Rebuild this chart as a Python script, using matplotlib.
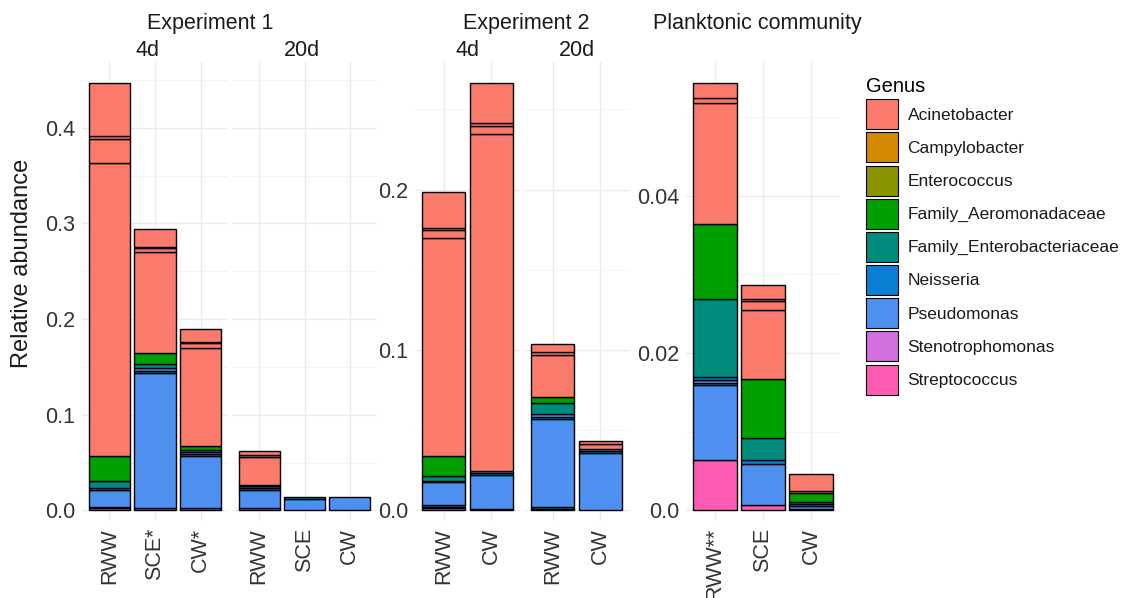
import matplotlib
matplotlib.use("Agg")
import matplotlib.pyplot as plt
from matplotlib.patches import Patch

plt.rcParams['font.family'] = ['Liberation Sans', 'DejaVu Sans']

# genus palette (legend order)
genera = ["Acinetobacter", "Campylobacter", "Enterococcus", "Family_Aeromonadaceae",
          "Family_Enterobacteriaceae", "Neisseria", "Pseudomonas",
          "Stenotrophomonas", "Streptococcus"]
genus_colors = ["#FA7A6B", "#D38A00", "#8A9300", "#009F00", "#008B7C",
                "#0A7FD3", "#4D90F0", "#D36FDF", "#FF5BB4"]

# each bar is a stack of ASV-level segments, bottom to top: (genus, relative abundance)
exp1_4d_bars = ["RWW", "SCE*", "CW*"]
exp1_4d_stacks = [
    [("Stenotrophomonas", 0.002), ("Pseudomonas", 0.001), ("Pseudomonas", 0.018),
     ("Neisseria", 0.002), ("Family_Enterobacteriaceae", 0.008), ("Family_Aeromonadaceae", 0.026),
     ("Acinetobacter", 0.306), ("Acinetobacter", 0.025), ("Acinetobacter", 0.0035),
     ("Acinetobacter", 0.055)],
    [("Pseudomonas", 0.002), ("Pseudomonas", 0.142), ("Neisseria", 0.002), ("Pseudomonas", 0.003),
     ("Family_Enterobacteriaceae", 0.004), ("Family_Aeromonadaceae", 0.011),
     ("Acinetobacter", 0.106), ("Acinetobacter", 0.004), ("Acinetobacter", 0.0015),
     ("Acinetobacter", 0.0185)],
    [("Pseudomonas", 0.002), ("Pseudomonas", 0.055), ("Neisseria", 0.002), ("Pseudomonas", 0.002),
     ("Family_Enterobacteriaceae", 0.002), ("Family_Aeromonadaceae", 0.004),
     ("Acinetobacter", 0.103), ("Acinetobacter", 0.005), ("Acinetobacter", 0.001),
     ("Acinetobacter", 0.014)],
]
exp1_20d_bars = ["RWW", "SCE", "CW"]
exp1_20d_stacks = [
    [("Pseudomonas", 0.002), ("Pseudomonas", 0.019), ("Neisseria", 0.002),
     ("Family_Enterobacteriaceae", 0.002), ("Family_Aeromonadaceae", 0.002),
     ("Acinetobacter", 0.029), ("Acinetobacter", 0.002), ("Acinetobacter", 0.004)],
    [("Pseudomonas", 0.012), ("Neisseria", 0.0015)],
    [("Pseudomonas", 0.014)],
]
exp2_4d_bars = ["RWW", "CW"]
exp2_4d_stacks = [
    [("Stenotrophomonas", 0.0012), ("Pseudomonas", 0.0008), ("Neisseria", 0.0012),
     ("Pseudomonas", 0.0145), ("Neisseria", 0.0008), ("Family_Enterobacteriaceae", 0.003),
     ("Family_Aeromonadaceae", 0.0125), ("Acinetobacter", 0.136), ("Acinetobacter", 0.005),
     ("Acinetobacter", 0.001), ("Acinetobacter", 0.0223)],
    [("Pseudomonas", 0.001), ("Pseudomonas", 0.021), ("Neisseria", 0.0015), ("Pseudomonas", 0.001),
     ("Acinetobacter", 0.210), ("Acinetobacter", 0.0055), ("Acinetobacter", 0.0015),
     ("Acinetobacter", 0.0248)],
]
exp2_20d_bars = ["RWW", "CW"]
exp2_20d_stacks = [
    [("Pseudomonas", 0.001), ("Neisseria", 0.001), ("Pseudomonas", 0.055), ("Neisseria", 0.001),
     ("Pseudomonas", 0.0023), ("Family_Enterobacteriaceae", 0.0067),
     ("Family_Aeromonadaceae", 0.0038), ("Acinetobacter", 0.0261), ("Acinetobacter", 0.002),
     ("Acinetobacter", 0.0048)],
    [("Pseudomonas", 0.036), ("Neisseria", 0.0012), ("Pseudomonas", 0.0013),
     ("Acinetobacter", 0.003), ("Acinetobacter", 0.0016)],
]
plank_bars = ["RWW**", "SCE", "CW"]
plank_stacks = [
    [("Streptococcus", 0.0064), ("Pseudomonas", 0.0095), ("Neisseria", 0.0003),
     ("Pseudomonas", 0.0004), ("Neisseria", 0.0004), ("Family_Enterobacteriaceae", 0.0099),
     ("Family_Aeromonadaceae", 0.0095), ("Acinetobacter", 0.0154), ("Acinetobacter", 0.0007),
     ("Acinetobacter", 0.0018)],
    [("Streptococcus", 0.0007), ("Pseudomonas", 0.0052), ("Neisseria", 0.0005),
     ("Family_Enterobacteriaceae", 0.0028), ("Family_Aeromonadaceae", 0.0075),
     ("Acinetobacter", 0.0088), ("Acinetobacter", 0.0011), ("Acinetobacter", 0.0003),
     ("Acinetobacter", 0.0017)],
    [("Neisseria", 0.0002), ("Pseudomonas", 0.0004), ("Neisseria", 0.0002),
     ("Family_Enterobacteriaceae", 0.0003), ("Family_Aeromonadaceae", 0.0011),
     ("Acinetobacter", 0.0002), ("Acinetobacter", 0.0022)],
]

exp1_yticks = [0, 0.1, 0.2, 0.3, 0.4]
exp1_yticklabels = ["0.0", "0.1", "0.2", "0.3", "0.4"]
exp2_yticks = [0, 0.1, 0.2]
exp2_yticklabels = ["0.0", "0.1", "0.2"]
plank_yticks = [0, 0.02, 0.04]
plank_yticklabels = ["0.0", "0.02", "0.04"]

W, H = 1126, 598
fig = plt.figure(figsize=(W / 100, H / 100), dpi=100)
color_of = dict(zip(genera, genus_colors))
TXT = "#333333"
top_px, bot_px = 62, 521


def stack_max(*groups):
    return max(sum(v for _, v in s) for g in groups for s in g)


def facet(x0, x1, bars, stacks, ymax, yticks, yticklabels, show_y):
    ax = fig.add_axes([x0 / W, 1 - bot_px / H, (x1 - x0) / W, (bot_px - top_px) / H])
    for i, stack in enumerate(stacks):
        base = 0.0
        for genus, v in stack:
            ax.bar(i, v, bottom=base, width=0.9, color=color_of[genus],
                   edgecolor="black", linewidth=1.0, zorder=3)
            base += v
    n = len(bars)
    ax.set_xlim(-0.6, n - 0.4)
    ax.set_ylim(-0.025 * ymax, 1.05 * ymax)
    ax.set_xticks(range(n))
    ax.set_xticklabels(bars, rotation=90, fontsize=15.5, color=TXT, va="top")
    step = yticks[1] - yticks[0]
    minors = [t + step / 2 for t in yticks if t + step / 2 < 1.05 * ymax]
    ax.set_yticks(yticks)
    ax.set_yticks(minors, minor=True)
    if show_y:
        ax.set_yticklabels(yticklabels, fontsize=15.5, color=TXT)
    else:
        ax.set_yticklabels([])
    ax.tick_params(which="both", length=0, pad=5)
    ax.grid(True, which="major", color="#EBEBEB", linewidth=1.0, zorder=0)
    ax.grid(True, which="minor", axis="y", color="#F4F4F4", linewidth=0.7, zorder=0)
    for s in ax.spines.values():
        s.set_visible(False)
    ax.set_axisbelow(True)
    return ax


m1 = stack_max(exp1_4d_stacks, exp1_20d_stacks)
m2 = stack_max(exp2_4d_stacks, exp2_20d_stacks)
m3 = stack_max(plank_stacks)

facet(82, 228, exp1_4d_bars, exp1_4d_stacks, m1, exp1_yticks, exp1_yticklabels, True)
facet(232, 377, exp1_20d_bars, exp1_20d_stacks, m1, exp1_yticks, exp1_yticklabels, False)
facet(415, 520, exp2_4d_bars, exp2_4d_stacks, m2, exp2_yticks, exp2_yticklabels, True)
facet(524, 629, exp2_20d_bars, exp2_20d_stacks, m2, exp2_yticks, exp2_yticklabels, False)
facet(686, 840, plank_bars, plank_stacks, m3, plank_yticks, plank_yticklabels, True)

# panel titles and day strips
for txt, x in [("Experiment 1", 210), ("Experiment 2", 526), ("Planktonic community", 757)]:
    fig.text(x / W, 1 - 24 / H, txt, ha="center", va="center", fontsize=15.5, color="#1A1A1A")
for txt, x in [("4d", 148), ("20d", 302), ("4d", 467), ("20d", 577)]:
    fig.text(x / W, 1 - 51 / H, txt, ha="center", va="center", fontsize=15.5, color="#1A1A1A")

fig.text(22 / W, 1 - 263 / H, "Relative abundance", rotation=90, ha="center", va="center",
         fontsize=17, color="#1A1A1A")

handles = [Patch(facecolor=c, edgecolor="black", linewidth=0.8) for c in genus_colors]
leg = fig.legend(handles, genera, loc="upper left", bbox_to_anchor=(866 / W, 1 - 77 / H),
                 frameon=False, title="Genus", fontsize=12.5, title_fontsize=14.5,
                 handlelength=1.84, handleheight=2.27, labelspacing=0.19,
                 handletextpad=0.55, borderpad=0, borderaxespad=0, alignment="left")
for t in leg.get_texts():
    t.set_color("#1A1A1A")

fig.savefig("out.png", dpi=100)
